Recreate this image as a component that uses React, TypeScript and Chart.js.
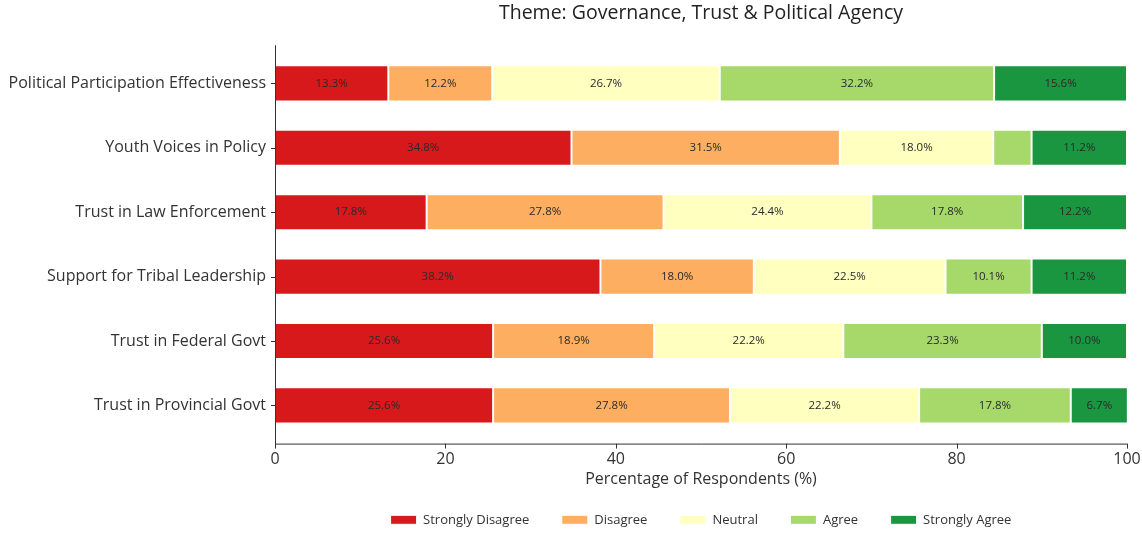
import React, { useEffect, useRef } from "react";
import { Chart, registerables } from "chart.js";

Chart.register(...registerables);

const categories = [
  "Political Participation Effectiveness",
  "Youth Voices in Policy",
  "Trust in Law Enforcement",
  "Support for Tribal Leadership",
  "Trust in Federal Govt",
  "Trust in Provincial Govt",
];

const seriesNames = ["Strongly Disagree", "Disagree", "Neutral", "Agree", "Strongly Agree"];

const stronglyDisagree = [13.3, 34.8, 17.8, 38.2, 25.6, 25.6];
const disagree = [12.2, 31.5, 27.8, 18.0, 18.9, 27.8];
const neutral = [26.7, 18.0, 24.4, 22.5, 22.2, 22.2];
const agree = [32.2, 4.5, 17.8, 10.1, 23.3, 17.8];
const stronglyAgree = [15.6, 11.2, 12.2, 11.2, 10.0, 6.7];

const xTicks = [0, 20, 40, 60, 80, 100];

const colors = ["#d7191c", "#fdae61", "#ffffbf", "#a6d96a", "#1a9641"];

const FONT = "'Open Sans', 'DejaVu Sans', sans-serif";

const axesPlugin = {
  id: "customAxes",
  afterDraw(chart: any) {
    const { ctx, chartArea, scales } = chart;
    const top = chartArea.top - 6;
    const bottom = chartArea.bottom + 6;
    ctx.save();
    ctx.strokeStyle = "#333";
    ctx.lineWidth = 1;
    ctx.beginPath();
    ctx.moveTo(chartArea.left + 0.5, top);
    ctx.lineTo(chartArea.left + 0.5, bottom + 0.5);
    ctx.lineTo(chartArea.right, bottom + 0.5);
    ctx.stroke();
    ctx.beginPath();
    xTicks.forEach((v) => {
      const x = Math.round(scales.x.getPixelForValue(v)) + 0.5;
      ctx.moveTo(x, bottom);
      ctx.lineTo(x, bottom + 5);
    });
    categories.forEach((_, i) => {
      const y = Math.round(scales.y.getPixelForValue(i)) + 0.5;
      ctx.moveTo(chartArea.left - 4, y);
      ctx.lineTo(chartArea.left, y);
    });
    ctx.stroke();
    ctx.restore();
  },
};

const labelPlugin = {
  id: "barLabels",
  afterDatasetsDraw(chart: any) {
    const { ctx } = chart;
    ctx.save();
    ctx.font = `11.5px ${FONT}`;
    ctx.fillStyle = "#2a2a2a";
    ctx.textAlign = "center";
    ctx.textBaseline = "middle";
    chart.data.datasets.forEach((ds: any, di: number) => {
      const meta = chart.getDatasetMeta(di);
      meta.data.forEach((el: any, i: number) => {
        const v = ds.data[i];
        if (v < 5) return;
        const cx = (el.x + el.base) / 2;
        ctx.fillText(v.toFixed(1) + "%", cx, el.y);
      });
    });
    ctx.restore();
  },
};

export default function App() {
  const ref = useRef<HTMLCanvasElement>(null);
  useEffect(() => {
    document.body.style.margin = "0";
    const series = [stronglyDisagree, disagree, neutral, agree, stronglyAgree];
    const chart = new Chart(ref.current!, {
      type: "bar",
      data: {
        labels: categories,
        datasets: series.map((d, i) => ({
          label: seriesNames[i],
          data: d,
          backgroundColor: colors[i],
          borderColor: "#ffffff",
          borderWidth: 1,
          borderSkipped: false,
          categoryPercentage: 0.8,
          barPercentage: 0.7,
        })),
      },
      options: {
        responsive: false,
        animation: false,
        indexAxis: "y",
        layout: { padding: { left: 0, right: 15, top: 0, bottom: -3.3 } },
        scales: {
          x: {
            stacked: true,
            min: 0,
            max: 100,
            grid: { display: false, drawTicks: false },
            border: { display: false },
            ticks: {
              stepSize: 20,
              padding: 12,
              color: "#333",
              font: { family: FONT, size: 16 },
            },
            title: {
              display: true,
              text: "Percentage of Respondents (%)",
              color: "#333",
              font: { family: FONT, size: 16 },
              padding: { top: 0, bottom: -8.4 },
            },
            afterFit(scale: any) {
              scale.height = 43.2;
              scale.paddingRight = 0;
              scale.paddingLeft = 0;
            },
          },
          y: {
            stacked: true,
            grid: { display: false, drawTicks: false },
            border: { display: false },
            ticks: {
              padding: 9,
              color: "#333",
              font: { family: FONT, size: 16 },
            },
            afterFit(scale: any) {
              scale.width = 275;
            },
          },
        },
        plugins: {
          title: {
            display: true,
            fullSize: false,
            text: "Theme: Governance, Trust & Political Agency",
            color: "#222",
            font: { family: FONT, size: 19.5, weight: "normal" },
            padding: { top: 1.3, bottom: 26.5 },
          },
          legend: {
            position: "bottom",
            fullSize: false,
            labels: {
              boxWidth: 26,
              boxHeight: 9,
              padding: 32.5,
              color: "#333",
              font: { family: FONT, size: 13 },
            },
          },
          tooltip: { enabled: false },
        },
      },
      plugins: [axesPlugin, labelPlugin],
    } as any);
    return () => chart.destroy();
  }, []);
  return (
    <div style={{ width: 1142, height: 533, background: "#fff" }}>
      <canvas ref={ref} width={1142} height={533} />
    </div>
  );
}
